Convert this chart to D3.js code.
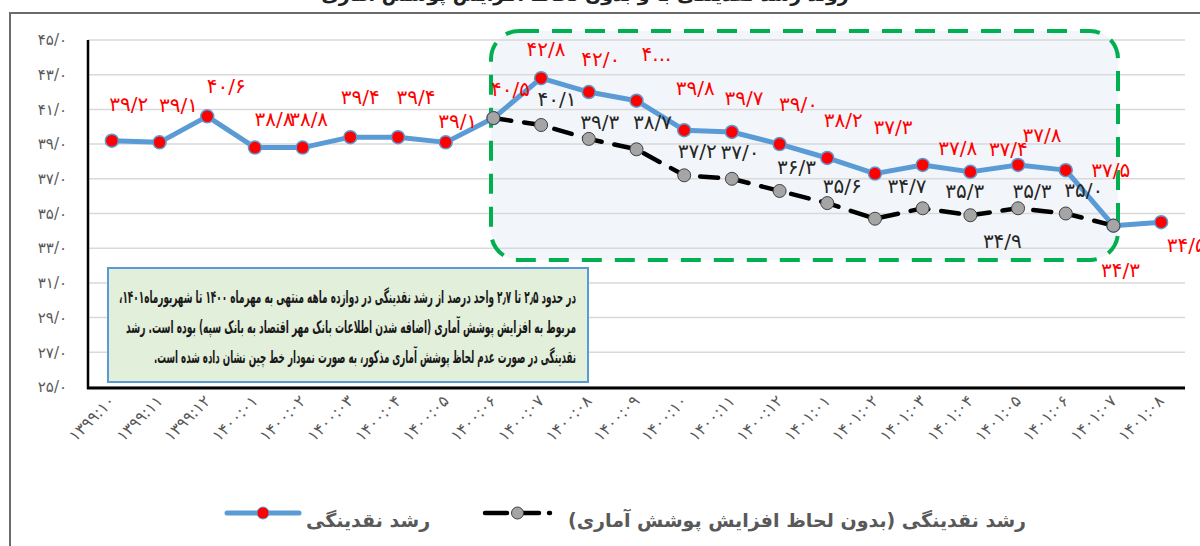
<!DOCTYPE html>
<html>
<head>
<meta charset="utf-8">
<script src="https://cdn.jsdelivr.net/npm/d3@7/dist/d3.min.js"></script>
<style>
	body { margin: 0; background: #fff; }
	svg { display: block; }
	text { font-family: "DejaVu Sans", sans-serif; }
</style>
</head>
<body>
<svg id="viz"></svg>
<script>

	// the data
	var months = ["1399:10", "1399:11", "1399:12",
		"1400:01", "1400:02", "1400:03", "1400:04", "1400:05", "1400:06",
		"1400:07", "1400:08", "1400:09", "1400:10", "1400:11", "1400:12",
		"1401:01", "1401:02", "1401:03", "1401:04", "1401:05", "1401:06", "1401:07", "1401:08"];
	var growth = [39.2, 39.1, 40.6, 38.8, 38.8, 39.4, 39.4, 39.1, 40.5,
		42.8, 42.0, 41.5, 39.8, 39.7, 39.0, 38.2, 37.3, 37.8, 37.4, 37.8, 37.5, 34.3, 34.5];
	var growthAdj = [null, null, null, null, null, null, null, null, 40.5,
		40.1, 39.3, 38.7, 37.2, 37.0, 36.3, 35.6, 34.7, 35.3, 34.9, 35.3, 35.0, 34.3, null];
	var yTicks = [25, 27, 29, 31, 33, 35, 37, 39, 41, 43, 45];
	var growthName = "رشد نقدینگی";
	var adjName = "رشد نقدینگی (بدون لحاظ افزایش پوشش آماری)";
	var titleText = "روند رشد نقدینگی با و بدون لحاظ افزایش پوشش آماری";
	var noteLines = [
		"در حدود ۲٫۵ تا ۲٫۷ واحد درصد از رشد نقدینگی در دوازده ماهه منتهی به مهرماه ۱۴۰۰ تا شهریورماه۱۴۰۱،",
		"مربوط به افزایش پوشش آماری (اضافه شدن اطلاعات بانک مهر اقتصاد به بانک سپه) بوده است. رشد",
		"نقدینگی در صورت عدم لحاظ پوشش آماری مذکور، به صورت نمودار خط چین نشان داده شده است."
	];
	// width each note line takes in the box
	var noteWidths = [457, 450, 422];

	// label placement (dx, dy from the point), as placed in the original
	var growthLabelPos = [[17,-30],[19,-30],[19,-23],[19,-22],[6,-22],[10,-33],[18,-33],[12,-14],[17,-22],
		[5,-22],[12,-26],[20,-40],[11,-35],[12,-27],[19,-33],[16,-31],[18,-40],[35,-10],[38,-16],[24,-23],
		[45,7],[7,51],[25,30]];
	var adjLabelPos = [null,null,null,null,null,null,null,null,null,
		[16,-19],[11,-10],[16,-20],[13,-17],[8,-20],[17,-17],[15,-10],[32,-26],[42,-10],[32,33],[14,-10],
		[18,-17],null,null];
	var labelOverride = {11: "۴..."};

	var fa = function(s) {
		return String(s).replace(/\d/g, function(d) { return "۰۱۲۳۴۵۶۷۸۹"[d]; });
	};
	var fmt = function(v) {
		return fa(v.toFixed(1).replace(".", "/"));
	};

	// set up the svg
	var w = 1200;
	var h = 546;
	var viz = d3.select("#viz").attr("width", w).attr("height", h);
	viz.append("rect").attr("width", w).attr("height", h).attr("fill", "#fff");

	var x = d3.scaleBand().domain(months).range([88, 1185]).padding(0);
	var y = d3.scaleLinear().domain([25, 45]).range([387, 40]);
	var cx = function(i) { return x(months[i]) + x.bandwidth() / 2; };

	// title (cut off at the top) and chart frame
	viz.append("text")
		.attr("x", 585).attr("y", 1)
		.attr("text-anchor", "middle")
		.attr("font-size", 19).attr("font-weight", "bold")
		.attr("fill", "#222")
		.text(titleText);
	viz.append("path")
		.attr("d", "M10,546 V13 H1200")
		.attr("fill", "none").attr("stroke", "#6b6b6b").attr("stroke-width", 2);

	// highlight box fill
	viz.append("rect")
		.attr("x", 491).attr("y", 31).attr("width", 627).attr("height", 229)
		.attr("rx", 28).attr("fill", "#f2f6fa");

	// gridlines
	viz.selectAll("line.grid")
		.data(yTicks)
		.enter()
		.append("line")
		.attr("class", "grid")
		.attr("x1", 88).attr("x2", 1185)
		.attr("y1", function(d) { return y(d); })
		.attr("y2", function(d) { return y(d); })
		.attr("stroke", "#d9d9d9").attr("stroke-width", 1.5);

	// y labels
	viz.selectAll("text.ylab")
		.data(yTicks)
		.enter()
		.append("text")
		.attr("class", "ylab")
		.attr("x", 67)
		.attr("y", function(d) { return y(d); })
		.attr("dy", "0.35em")
		.attr("text-anchor", "end")
		.attr("font-size", 15)
		.attr("fill", "#595959")
		.text(function(d) { return fmt(d); });

	// x labels
	viz.selectAll("text.xlab")
		.data(months)
		.enter()
		.append("text")
		.attr("class", "xlab")
		.attr("transform", function(d, i) { return "translate(" + (cx(i) + 4) + ",402) rotate(-45)"; })
		.attr("text-anchor", "end")
		.attr("font-size", 16)
		.attr("letter-spacing", 2)
		.attr("fill", "#595959")
		.text(function(d) { return fa(d); });

	// axes lines
	viz.append("line")
		.attr("x1", 88).attr("x2", 88).attr("y1", 40).attr("y2", 389)
		.attr("stroke", "#000").attr("stroke-width", 2.5);
	viz.append("line")
		.attr("x1", 87).attr("x2", 1185).attr("y1", 388).attr("y2", 388)
		.attr("stroke", "#000").attr("stroke-width", 3);

	// highlight box border
	viz.append("rect")
		.attr("x", 491).attr("y", 31).attr("width", 627).attr("height", 229)
		.attr("rx", 28)
		.attr("fill", "none")
		.attr("stroke", "#00b050").attr("stroke-width", 4)
		.attr("stroke-dasharray", "20,13");

	// the lines
	var line = d3.line()
		.defined(function(d) { return d != null; })
		.x(function(d, i) { return cx(i); })
		.y(function(d) { return y(d); });

	viz.append("path")
		.datum(growth)
		.attr("d", line)
		.attr("fill", "none")
		.attr("stroke", "#5b9bd5").attr("stroke-width", 5)
		.attr("stroke-linejoin", "round");

	viz.selectAll("circle.growth")
		.data(growth)
		.enter()
		.append("circle")
		.attr("class", "growth")
		.attr("cx", function(d, i) { return cx(i); })
		.attr("cy", function(d) { return y(d); })
		.attr("r", 6.5)
		.attr("fill", "#ff0000")
		.attr("stroke", "#5b9bd5").attr("stroke-width", 1.5);

	viz.append("path")
		.datum(growthAdj)
		.attr("d", line)
		.attr("fill", "none")
		.attr("stroke", "#000").attr("stroke-width", 4.5)
		.attr("stroke-dasharray", "18,13")
		.attr("stroke-linecap", "round");

	viz.selectAll("circle.adj")
		.data(growthAdj.map(function(d, i) { return {v: d, i: i}; }).filter(function(d) { return d.v != null; }))
		.enter()
		.append("circle")
		.attr("class", "adj")
		.attr("cx", function(d) { return cx(d.i); })
		.attr("cy", function(d) { return y(d.v); })
		.attr("r", 6.5)
		.attr("fill", "#a5a5a5")
		.attr("stroke", "#404040").attr("stroke-width", 1);

	// data labels
	viz.selectAll("text.glab")
		.data(growth)
		.enter()
		.append("text")
		.attr("class", "glab")
		.attr("x", function(d, i) { return cx(i) + growthLabelPos[i][0]; })
		.attr("y", function(d, i) { return y(d) + growthLabelPos[i][1]; })
		.attr("text-anchor", "middle")
		.attr("font-size", 20)
		.attr("fill", "#ff0000")
		.text(function(d, i) { return labelOverride[i] || fmt(d); });

	viz.selectAll("text.alab")
		.data(growthAdj.map(function(d, i) { return {v: d, i: i}; }).filter(function(d) { return adjLabelPos[d.i]; }))
		.enter()
		.append("text")
		.attr("class", "alab")
		.attr("x", function(d) { return cx(d.i) + adjLabelPos[d.i][0]; })
		.attr("y", function(d) { return y(d.v) + adjLabelPos[d.i][1]; })
		.attr("text-anchor", "middle")
		.attr("font-size", 20)
		.attr("fill", "#262626")
		.text(function(d) { return fmt(d.v); });

	// note box
	viz.append("rect")
		.attr("x", 108).attr("y", 268).attr("width", 480).attr("height", 114)
		.attr("fill", "#e2efda")
		.attr("stroke", "#5b9bd5").attr("stroke-width", 2);
	viz.selectAll("text.note")
		.data(noteLines)
		.enter()
		.append("text")
		.attr("class", "note")
		.attr("x", 576)
		.attr("y", function(d, i) { return 303 + i * 30; })
		.attr("direction", "rtl")
		.attr("text-anchor", "start")
		.attr("font-size", 17.5)
		.attr("font-weight", "bold")
		.attr("fill", "#1a1a1a")
		.attr("textLength", function(d, i) { return noteWidths[i]; })
		.attr("lengthAdjust", "spacingAndGlyphs")
		.text(function(d) { return d; });

	// legend
	var legend = [
		{name: growthName, x1: 227, x2: 299, tx: 368, color: "#5b9bd5", dash: null, fill: "#ff0000", ms: "#5b9bd5"},
		{name: adjName, x1: 485, x2: 550, tx: 797, color: "#000", dash: "18,13", fill: "#a5a5a5", ms: "#404040"}
	];
	var lg = viz.selectAll("g.legend")
		.data(legend)
		.enter()
		.append("g")
		.attr("class", "legend");
	lg.append("line")
		.attr("x1", function(d) { return d.x1; })
		.attr("x2", function(d) { return d.x2; })
		.attr("y1", 513).attr("y2", 513)
		.attr("stroke", function(d) { return d.color; })
		.attr("stroke-width", function(d) { return d.dash ? 4.5 : 5; })
		.attr("stroke-linecap", "round")
		.attr("stroke-dasharray", function(d) { return d.dash ? "22,10" : null; });
	lg.append("circle")
		.attr("cx", function(d) { return (d.x1 + d.x2) / 2; })
		.attr("cy", 513)
		.attr("r", 6)
		.attr("fill", function(d) { return d.fill; })
		.attr("stroke", function(d) { return d.ms; });
	lg.append("text")
		.attr("x", function(d) { return d.tx; })
		.attr("y", 527)
		.attr("text-anchor", "middle")
		.attr("direction", "rtl")
		.attr("font-size", 19)
		.attr("font-weight", "bold")
		.attr("fill", "#595959")
		.text(function(d) { return d.name; });

</script>
</body>
</html>
